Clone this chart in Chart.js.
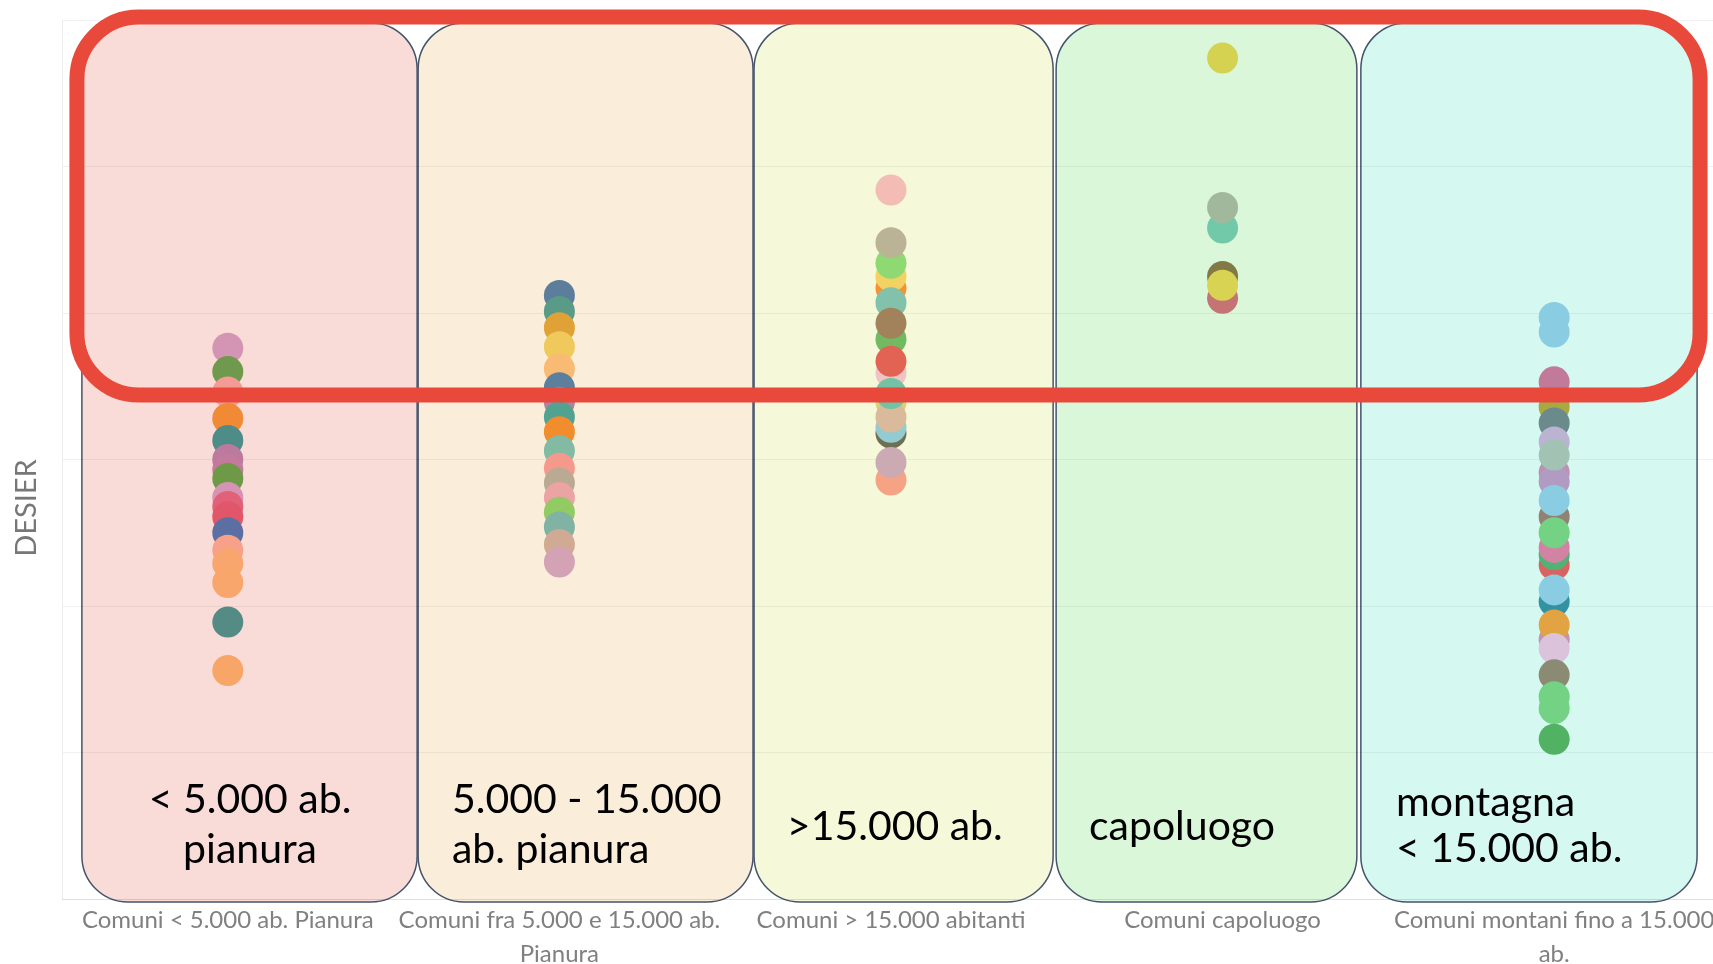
<!DOCTYPE html>
<html>
<head>
<meta charset="utf-8">
<script src="https://cdn.jsdelivr.net/npm/chart.js@4.4.1/dist/chart.umd.min.js"></script>
<style>
  html, body { margin: 0; padding: 0; background: #fff; overflow: hidden; }
  #wrap { width: 1713px; height: 964px; overflow: hidden; }
  #chart { display: block; width: 1713px; height: 964px; }
</style>
</head>
<body>
<div id="wrap"><canvas id="chart" width="1713" height="964"></canvas></div>
<script>
// categorie (etichette asse x)
const categories = [
    ['Comuni < 5.000 ab. Pianura'],
    ['Comuni fra 5.000 e 15.000 ab.', 'Pianura'],
    ['Comuni > 15.000 abitanti'],
    ['Comuni capoluogo'],
    ['Comuni montani fino a 15.000', 'ab.']
];

// testi dei riquadri
const groupLabels = [
    ['< 5.000 ab.', 'pianura'],
    ['5.000 - 15.000', 'ab. pianura'],
    ['>15.000 ab.'],
    ['capoluogo'],
    ['montagna', '< 15.000 ab.']
];

const yTitle = 'DESIER';

// valori DESIER per comune
const pianuraPiccoli = [3.76, 3.60, 3.46, 3.28, 3.13, 3.00, 2.93, 2.87, 2.74, 2.68, 2.61, 2.50, 2.38, 2.29, 2.16, 1.89, 1.56];
const pianuraPiccoliColors = ['#D495B5', '#6F9A4E', '#F59B95', '#F08A35', '#4E8C88', '#BC7A9E', '#C47A9C', '#6E9A48', '#D693B4', '#E16278', '#E2566A', '#5B6FA3', '#F7A08A', '#F8A66D', '#F8A66C', '#548B84', '#F8A668'];

const pianuraMedi = [4.12, 4.01, 3.90, 3.77, 3.62, 3.49, 3.39, 3.29, 3.19, 3.06, 2.94, 2.84, 2.74, 2.64, 2.54, 2.42, 2.30];
const pianuraMediColors = ['#5C7E9C', '#5A9B87', '#E0A236', '#F0C95C', '#F9BB74', '#5D7F9E', '#B1829C', '#52A292', '#F28D2D', '#82BAA4', '#F6998D', '#BAAA94', '#EBA3A3', '#92CA63', '#80B3A4', '#D1AA93', '#D3A3B5'];

const grandi = [4.84, 4.17, 4.25, 4.34, 4.48, 4.07, 3.82, 3.93, 3.59, 3.67, 3.39, 3.18, 3.22, 3.29, 3.45, 2.86, 2.98];
const grandiColors = ['#F3BDB5', '#F79233', '#F1D262', '#8FD972', '#BBB395', '#82C2AA', '#72BA62', '#A2825A', '#F1C4C4', '#E26253', '#D9D274', '#6F7052', '#93CBD3', '#D9BB9B', '#72C2A3', '#F6A385', '#CBAAB3'];

const capoluoghi = [5.74, 4.58, 4.72, 4.10, 4.25, 4.19];
const capoluoghiColors = ['#D5D252', '#72C9AA', '#A2B89C', '#C47475', '#827A44', '#D9D353'];

const montani = [3.97, 3.87, 3.53, 3.36, 3.25, 3.12, 2.91, 2.85, 3.03, 2.61, 2.72, 2.28, 2.35, 2.40, 2.50, 2.03, 2.11, 1.77, 1.87, 1.71, 1.53, 1.30, 1.38, 1.09];
const montaniColors = ['#8ACDE2', '#8ACDE2', '#C27A9A', '#A9A843', '#6B8A8B', '#BAB3D2', '#BA93B3', '#B29BC3', '#A2C2B3', '#928273', '#8ACDE2', '#D96262', '#53B273', '#D283A3', '#73D283', '#3291A3', '#8ACDE2', '#C393B3', '#E2A343', '#DBC3DB', '#8B8B73', '#73D283', '#73D283', '#52B263'];

const groups = [
    [pianuraPiccoli, pianuraPiccoliColors],
    [pianuraMedi, pianuraMediColors],
    [grandi, grandiColors],
    [capoluoghi, capoluoghiColors],
    [montani, montaniColors]
];

// riquadri colorati (in unita' delle scale)
const panelFills = ['#F9DCD8', '#FAEEDA', '#F5F9DA', '#DAF8D9', '#D5F9F1'];
const panelRanges = [[-0.44, 0.571], [0.574, 1.584], [1.587, 2.489], [2.498, 3.405], [3.417, 4.431]];
const panelTop = 5.98, panelBottom = -0.02;
const labelPos = [
    { x: 0.067, y: [0.676, 0.334], align: 'center' },
    { x: 0.676, y: [0.676, 0.334], align: 'left' },
    { x: 1.686, y: [0.491], align: 'left' },
    { x: 2.597, y: [0.491], align: 'left' },
    { x: 3.523, y: [0.655, 0.341], align: 'left' }
];
const frame = { x0: -0.455, x1: 4.44, y0: 6.02, y1: 3.44 };

const overlayPlugin = {
    id: 'overlay',
    beforeDraw(chart) {
        const { ctx, scales: { x, y } } = chart;
        ctx.save();
        panelRanges.forEach((r, i) => {
            const left = x.getPixelForValue(r[0]);
            const right = x.getPixelForValue(r[1]);
            const top = y.getPixelForValue(panelTop);
            const bottom = y.getPixelForValue(panelBottom);
            ctx.beginPath();
            ctx.roundRect(left, top, right - left, bottom - top, 46);
            ctx.fillStyle = panelFills[i];
            ctx.fill();
            ctx.lineWidth = 1.5;
            ctx.strokeStyle = '#45536B';
            ctx.stroke();
        });
        // titolo asse y
        ctx.translate(27, 508);
        ctx.rotate(-Math.PI / 2);
        ctx.fillStyle = '#777';
        ctx.font = '29px Lato';
        ctx.textAlign = 'center';
        ctx.textBaseline = 'middle';
        ctx.fillText(yTitle, 0, 0);
        ctx.restore();
    },
    afterDatasetsDraw(chart) {
        const { ctx, scales: { x, y } } = chart;
        ctx.save();
        ctx.fillStyle = '#000';
        ctx.font = '41px Lato';
        ctx.textBaseline = 'middle';
        groupLabels.forEach((lines, i) => {
            const p = labelPos[i];
            ctx.textAlign = p.align;
            lines.forEach((t, j) => {
                ctx.fillText(t, x.getPixelForValue(p.x), y.getPixelForValue(p.y[j]));
            });
        });
        // riquadro rosso
        const l = x.getPixelForValue(frame.x0), r = x.getPixelForValue(frame.x1);
        const t = y.getPixelForValue(frame.y0), b = y.getPixelForValue(frame.y1);
        ctx.beginPath();
        ctx.roundRect(l, t, r - l, b - t, 62);
        ctx.lineWidth = 15;
        ctx.strokeStyle = '#E8493A';
        ctx.stroke();
        ctx.restore();
    }
};

const ctx = document.getElementById('chart').getContext('2d');
const chart = new Chart(ctx, {
    type: 'scatter',
    data: {
        datasets: groups.map((g, i) => ({
            data: g[0].map(v => ({ x: i, y: v })),
            pointBackgroundColor: g[1],
            pointBorderWidth: 0,
            pointRadius: 15.5,
            pointHoverRadius: 15.5
        }))
    },
    options: {
        responsive: false,
        animation: false,
        devicePixelRatio: 1,
        layout: { autoPadding: false, padding: { top: 20, left: 0, right: 0, bottom: 0 } },
        plugins: {
            legend: { display: false },
            tooltip: { enabled: false }
        },
        scales: {
            x: {
                type: 'linear',
                min: -0.5,
                max: 4.479,
                afterBuildTicks: s => { s.ticks = categories.map((c, i) => ({ value: i })); },
                afterFit: s => {
                    s.height = 65;
                    s.paddingLeft = 0;
                    s.paddingRight = 0;
                },
                grid: { display: false },
                border: { display: true, color: 'rgba(0,0,0,0.07)' },
                ticks: {
                    autoSkip: false,
                    maxRotation: 0,
                    padding: -4,
                    color: '#808080',
                    font: { family: 'Lato', size: 24, lineHeight: 1.42 },
                    callback: v => categories[v]
                }
            },
            y: {
                min: 0,
                max: 6,
                afterFit: s => { s.width = 62; },
                ticks: { display: false, stepSize: 1 },
                grid: { color: 'rgba(0,0,0,0.055)', drawTicks: false },
                border: { display: true, color: 'rgba(0,0,0,0.07)' },
                title: { display: false }
            }
        }
    },
    plugins: [overlayPlugin]
});
</script>
</body>
</html>
